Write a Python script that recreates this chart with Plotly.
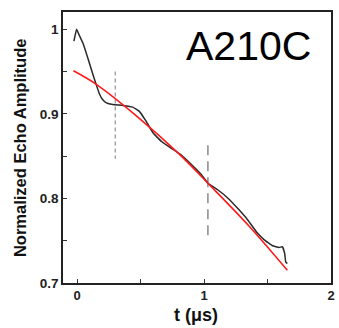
import plotly.graph_objects as go

# measured echo amplitude (black trace)
t_data = [-0.026, -0.005, 0.016, 0.047, 0.086, 0.125, 0.151, 0.177, 0.200, 0.230, 0.281,
          0.359, 0.4375, 0.49, 0.54, 0.60, 0.667, 0.745, 0.823, 0.90, 0.979,
          1.03, 1.11, 1.19, 1.266, 1.344, 1.42, 1.474, 1.54, 1.59, 1.617,
          1.635, 1.643, 1.656]
amp_data = [0.986, 1.000, 0.993, 0.983, 0.965, 0.946, 0.934, 0.923, 0.917, 0.913, 0.911,
            0.910, 0.908, 0.903, 0.892, 0.877, 0.867, 0.859, 0.851, 0.840, 0.828,
            0.818, 0.810, 0.800, 0.788, 0.7746, 0.759, 0.751, 0.744, 0.742, 0.743,
            0.735, 0.725, 0.723]

# fit curve (red)
t_fit = [-0.03, 0.15, 0.48, 0.80, 1.03, 1.35, 1.656]
amp_fit = [0.951, 0.935, 0.896, 0.853, 0.818, 0.768, 0.715]

# dashed marker lines
mark1_t = [0.30, 0.30]
mark1_y = [0.950, 0.847]
mark2_t = [1.03, 1.03]
mark2_y = [0.863, 0.750]

x_tickvals = [0, 0.5, 1, 1.5, 2]
x_ticktext = ["0", "", "1", "", "2"]
y_tickvals = [0.7, 0.75, 0.8, 0.85, 0.9, 0.95, 1.0]
y_ticktext = ["0.7", "", "0.8", "", "0.9", "", "1"]

label = "A210C"
x_title = "t (μs)"
y_title = "Normalized Echo Amplitude"

FONT = "Liberation Sans, Arial, sans-serif"

fig = go.Figure()
fig.add_trace(go.Scatter(x=mark1_t, y=mark1_y, mode="lines",
                         line=dict(color="#9a9a9a", width=1.3, dash="4px,3px")))
fig.add_trace(go.Scatter(x=mark2_t, y=mark2_y, mode="lines",
                         line=dict(color="#8a8a8a", width=1.5, dash="10px,6px")))
fig.add_trace(go.Scatter(x=t_data, y=amp_data, mode="lines",
                         line=dict(color="#2a2a2a", width=1.5, shape="spline", smoothing=0.25)))
fig.add_trace(go.Scatter(x=t_fit, y=amp_fit, mode="lines",
                         line=dict(color="#ff1a1a", width=1.6, shape="spline")))

fig.update_layout(
    width=339, height=328,
    margin=dict(l=63, r=4, t=12, b=45),
    paper_bgcolor="white", plot_bgcolor="white",
    showlegend=False,
    font=dict(family=FONT, color="#222"),
    xaxis=dict(range=[-0.112, 2.0], tickvals=x_tickvals, ticktext=x_ticktext,
               ticks="inside", ticklen=4, tickcolor="#333", tickwidth=1,
               showline=True, mirror=True, linecolor="#222", linewidth=1.5,
               showgrid=False, zeroline=False,
               tickfont=dict(size=13, family=FONT, weight="bold", color="#222")),
    yaxis=dict(range=[0.7, 1.0205], tickvals=y_tickvals, ticktext=y_ticktext,
               ticks="inside", ticklen=4, tickcolor="#333", tickwidth=1,
               showline=True, mirror=True, linecolor="#222", linewidth=1.5,
               showgrid=False, zeroline=False,
               tickfont=dict(size=13.5, family=FONT, weight="bold", color="#222")),
    annotations=[
        dict(text=label, xref="paper", yref="paper", x=0.693, y=0.875,
             xanchor="center", yanchor="middle", showarrow=False,
             font=dict(size=41, family=FONT, color="black")),
        dict(text=x_title, xref="paper", yref="paper", x=0.496, y=-0.118,
             xanchor="center", yanchor="middle", showarrow=False,
             font=dict(size=18, family=FONT, weight="bold", color="#111")),
        dict(text=y_title, xref="paper", yref="paper", x=-0.162, y=0.5,
             xanchor="center", yanchor="middle", showarrow=False, textangle=-90,
             font=dict(size=16.5, family=FONT, weight="bold", color="#111")),
    ],
)

fig.write_html("out.html")
